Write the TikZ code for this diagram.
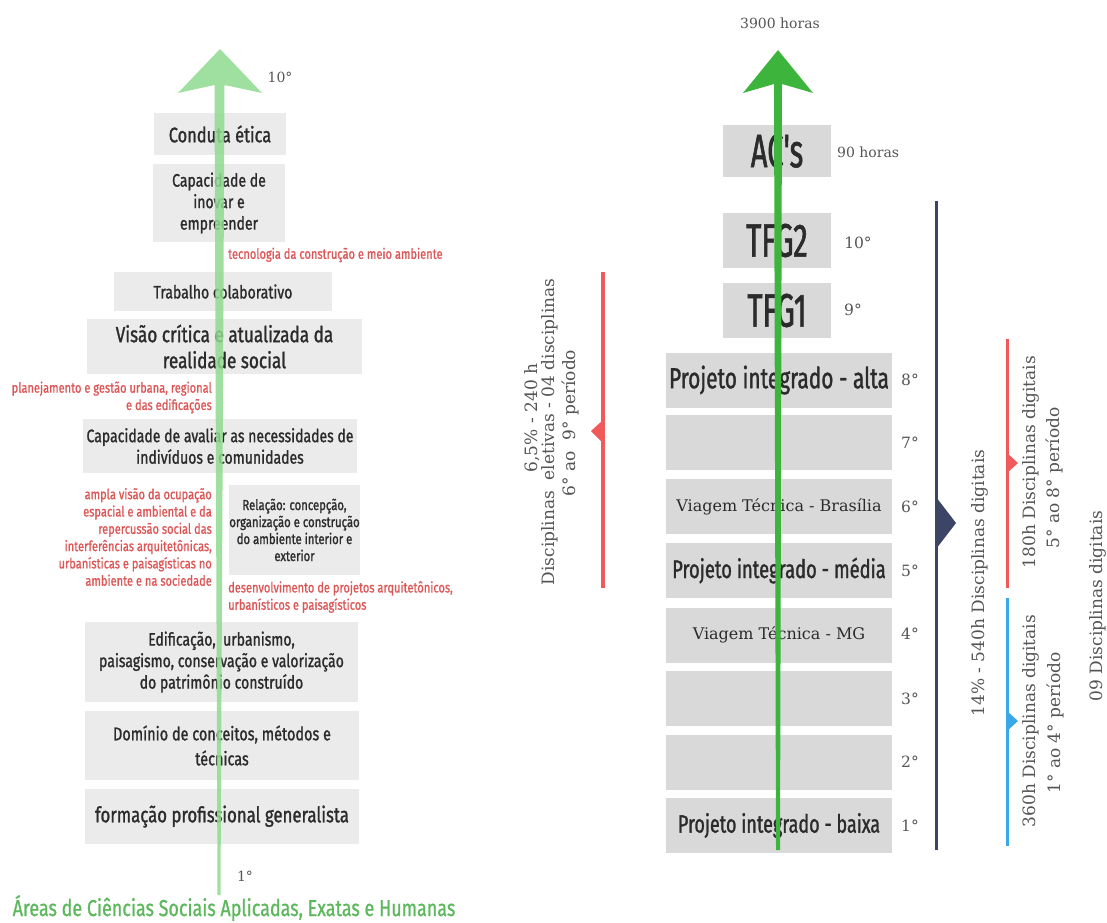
\documentclass[tikz,border=0pt]{standalone}
\usepackage{fontspec}
\setmainfont{DejaVu Serif}
\newfontfamily\cond[FakeStretch=0.78,FakeBold=1.2]{Fira Sans}
\newfontfamily\condred[FakeStretch=0.78,FakeBold=0.8]{Fira Sans}
\newfontfamily\condr[FakeStretch=0.72,FakeBold=1.2]{Fira Sans}
\newfontfamily\condt[FakeStretch=0.62,FakeBold=1.2]{Fira Sans}
\definecolor{lbg}{HTML}{EBEBEB}
\definecolor{rbg}{HTML}{D9D9D9}
\definecolor{txt}{HTML}{2B2B2B}
\definecolor{redt}{HTML}{DD5555}
\definecolor{lgreen}{HTML}{8FDA8F}
\definecolor{dgreen}{HTML}{3DB53D}
\definecolor{gtitle}{HTML}{5DB85D}
\definecolor{redl}{HTML}{F05A5A}
\definecolor{navy}{HTML}{3D4566}
\definecolor{bluel}{HTML}{3AA8E8}
\definecolor{deg}{HTML}{555555}
\begin{document}
\begin{tikzpicture}[x=1pt,y=-1pt,
  lbox/.style={fill=lbg, inner sep=0pt, align=center, text=txt, font=\cond\fontsize{18}{21.5}\selectfont},
  rbox/.style={fill=rbg, inner sep=0pt, minimum width=226pt, minimum height=55pt, text=txt, font=\condr\fontsize{29}{32}\selectfont},
  sbox/.style={fill=rbg, inner sep=0pt, minimum width=108pt, text=txt, font=\condt\fontsize{47}{48}\selectfont},
  rlab/.style={text=redt, font=\condred\fontsize{14.2}{17.3}\selectfont, inner sep=0pt},
  deglab/.style={text=deg, font=\fontsize{14}{16}\selectfont, inner sep=0pt},
  rdeg/.style={deglab, font=\fontsize{15.5}{16}\selectfont},
  vtext/.style={text=deg, rotate=90, inner sep=0pt, font=\fontsize{17}{18}\selectfont},
]
\useasboundingbox (0,0) rectangle (1107,922);
\fill[white] (0,0) rectangle (1107,922);

% ---------- left column boxes ----------
\node[lbox, minimum width=132pt, minimum height=42pt, font=\cond\fontsize{21}{22}\selectfont] (b1) at (220,134) {Conduta ética};
\node[lbox, minimum width=132pt, minimum height=78pt] (b2) at (219,203) {Capacidade de\\inovar e\\empreender};
\node[lbox, minimum width=218pt, minimum height=39pt] (b3) at (223,291.5) {Trabalho colaborativo};
\node[lbox, minimum width=275pt, minimum height=55pt, font=\cond\fontsize{22}{26}\selectfont] (b4) at (224.5,346.5) {Visão crítica e atualizada da\\realidade social};
\node[lbox, minimum width=274pt, minimum height=54pt] (b5) at (220,446) {Capacidade de avaliar as necessidades de\\indivíduos e comunidades};
\node[lbox, minimum width=131pt, minimum height=90pt, font=\cond\fontsize{14.5}{17}\selectfont] (b6) at (294.5,530) {Relação: concepção,\\organização e construção\\do ambiente interior e\\exterior};
\node[lbox, minimum width=273pt, minimum height=80pt] (b7) at (221.5,662) {Edificação,\ \ urbanismo,\\paisagismo, conservação e valorização\\do patrimônio construído};
\node[lbox, minimum width=274pt, minimum height=69pt, font=\cond\fontsize{18.5}{25}\selectfont] (b8) at (222,745.5) {Domínio de conceitos, métodos e\\técnicas};
\node[lbox, minimum width=274pt, minimum height=55pt, font=\cond\fontsize{21.5}{22}\selectfont] (b9) at (222,816.5) {formação profissional generalista};

% red labels
\node[rlab, anchor=west] (r1) at (228,255) {tecnologia da construção e meio ambiente};
\node[rlab, anchor=east, align=right] (r2) at (212,397.5) {planejamento e gestão urbana, regional\\e das edificações};
\node[rlab, anchor=east, align=right] (r3) at (212,537) {ampla visão da ocupação\\espacial e ambiental e da\\repercussão social das\\interferências arquitetônicas,\\urbanísticas e paisagísticas no\\ambiente e na sociedade};
\node[rlab, anchor=west, align=left] (r4) at (228,597) {desenvolvimento de projetos arquitetônicos,\\urbanísticos e paisagísticos};

% left arrow
\fill[lgreen, opacity=0.85] (217.5,895) -- (220.5,895) -- (224.5,85) -- (262,93) -- (220,49) -- (178,93) -- (214.5,85) -- cycle;
\node[deglab] (l10) at (280,77) {10°};
\node[deglab] (l1) at (245,876) {1°};
\node[text=gtitle, inner sep=0pt, font=\condred\fontsize{23}{24}\selectfont] (title) at (234,908) {Áreas de Ciências Sociais Aplicadas, Exatas e Humanas};

% ---------- middle elective bar ----------
\draw[redl, line width=3.5pt] (603,272) coordinate (ea) -- (603,588) coordinate (eb);
\fill[redl] (603,420) -- (591,431) -- (603,443) -- cycle;
\node[vtext] (e1) at (532,418) {6,5\% - 240 h};
\node[vtext] (e2) at (550,432) {Disciplinas\ \ eletivas - 04 disciplinas};
\node[vtext] (e3) at (570,423) {6° ao\ \ 9° período};

% ---------- right column boxes ----------
\node[sbox, minimum height=52pt] (ac) at (777,151) {AC's};
\node[sbox, minimum height=55pt] (t2) at (777,240.5) {TFG2};
\node[sbox, minimum height=55pt] (t1) at (777,310.5) {TFG1};
\node[rbox] (p8) at (779,380) {Projeto integrado - alta};
\node[rbox] (p7) at (779,442.5) {};
\node[rbox, font=\fontsize{16}{18}\selectfont] (p6) at (779,506.5) {Viagem Técnica - Brasília};
\node[rbox, font=\condr\fontsize{25.5}{28}\selectfont] (p5) at (779,570.5) {Projeto integrado - média};
\node[rbox, font=\fontsize{16}{18}\selectfont] (p4) at (779,635) {Viagem Técnica - MG};
\node[rbox] (p3) at (779,698.5) {};
\node[rbox] (p2) at (779,762.5) {};
\node[rbox, font=\condr\fontsize{25}{28}\selectfont] (p1) at (779,825.5) {Projeto integrado - baixa};

% right arrow
\fill[dgreen] (776,850) -- (780,850) -- (782,84) -- (813,93) -- (778,50) -- (743,93) -- (774,84) -- cycle;

% right labels
\node[deglab] (h3900) at (780,23) {3900 horas};
\node[deglab, anchor=west] (h90) at (837,152) {90 horas};
\node[rdeg] (s10) at (858,243) {10°};
\node[rdeg] (s9) at (853,310) {9°};
\node[rdeg] (s8) at (910,380) {8°};
\node[rdeg] (s7) at (910,443) {7°};
\node[rdeg] (s6) at (910,507) {6°};
\node[rdeg] (s5) at (910,571) {5°};
\node[rdeg] (s4) at (910,634) {4°};
\node[rdeg] (s3) at (910,699) {3°};
\node[rdeg] (s2) at (910,762) {2°};
\node[rdeg] (s1) at (910,826) {1°};

% digital bars
\draw[navy, line width=3pt] (936,201) coordinate (na) -- (936,850) coordinate (nb);
\fill[navy] (936,497) -- (956,523) -- (936,549) -- cycle;
\draw[redl, line width=3pt] (1007,339) coordinate (ra) -- (1007,588) coordinate (rb);
\fill[redl] (1007,453) -- (1018,463) -- (1007,473) -- cycle;
\draw[bluel, line width=3pt] (1007,598) coordinate (ba) -- (1007,846) coordinate (bb);
\fill[bluel] (1007,711) -- (1018,721) -- (1007,731) -- cycle;

\node[vtext] (d1) at (980,583) {14\% - 540h Disciplinas digitais};
\node[vtext] (d2) at (1031,462) {180h Disciplinas digitais};
\node[vtext] (d3) at (1054,478) {5° ao 8° período};
\node[vtext] (d4) at (1031,721) {360h Disciplinas digitais};
\node[vtext] (d5) at (1055,723) {1° ao 4° período};
\node[vtext] (d6) at (1098,606) {09 Disciplinas digitais};
\end{tikzpicture}
\end{document}
